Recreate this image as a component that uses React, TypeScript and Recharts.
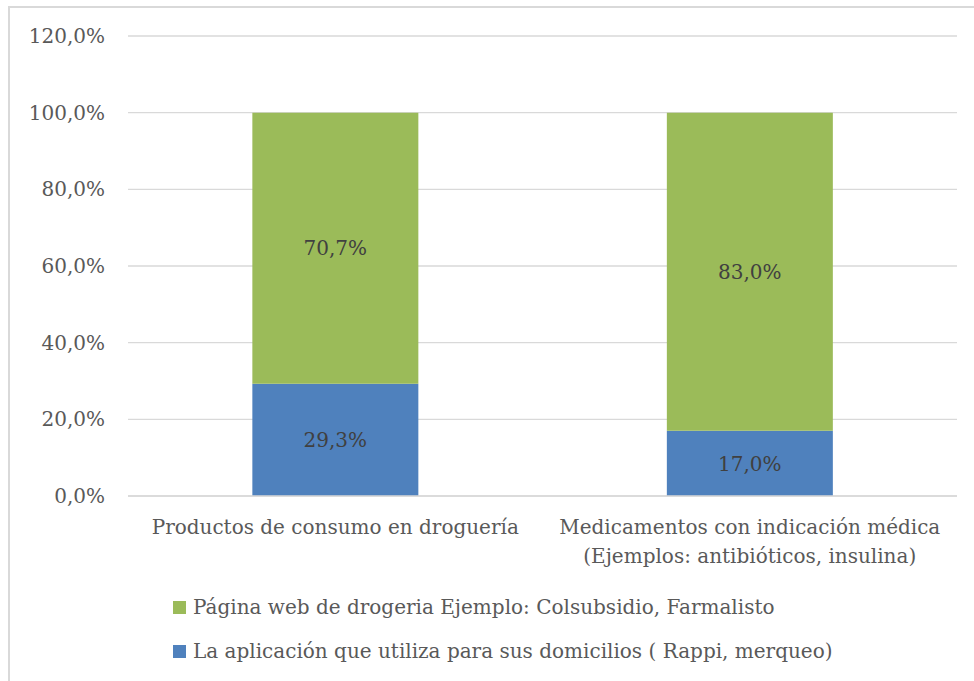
import React from "react";
import {
  Bar,
  BarChart,
  CartesianGrid,
  LabelList,
  Legend,
  XAxis,
  YAxis,
} from "recharts";

const categories = [
  "Productos de consumo en droguería",
  "Medicamentos con indicación médica\n(Ejemplos: antibióticos, insulina)",
];
const appValues = [29.3, 17.0];
const webValues = [70.7, 83.0];
const yTicks = [0, 20, 40, 60, 80, 100, 120];

const APP_NAME = "La aplicación que utiliza para sus domicilios ( Rappi, merqueo)";
const WEB_NAME = "Página web de drogeria Ejemplo: Colsubsidio, Farmalisto";

const BLUE = "#4F81BD";
const GREEN = "#9BBB59";
const FONT = "'DejaVu Serif', serif";
const FS = 20;

const data = categories.map((name, i) => ({
  name,
  app: appValues[i],
  web: webValues[i],
}));

const pct = (v: number) => `${v.toFixed(1).replace(".", ",")}%`;

function CategoryTick(props: any) {
  const { x, y, payload } = props;
  const lines = String(payload.value).split("\n");
  return (
    <text x={x} y={y} textAnchor="middle" fill="#595959" fontSize={FS} fontFamily={FONT}>
      {lines.map((l, i) => (
        <tspan key={i} x={x} dy={i === 0 ? 30 : 29}>
          {l}
        </tspan>
      ))}
    </text>
  );
}

function ChartLegend() {
  const items = [
    { name: WEB_NAME, color: GREEN },
    { name: APP_NAME, color: BLUE },
  ];
  return (
    <div style={{ fontFamily: FONT, fontSize: FS, color: "#595959" }}>
      {items.map((it) => (
        <div key={it.name} style={{ display: "flex", alignItems: "center", height: 44 }}>
          <span style={{ width: 13, height: 13, background: it.color, marginRight: 7 }} />
          <span>{it.name}</span>
        </div>
      ))}
    </div>
  );
}

export default function App() {
  return (
    <div style={{ position: "absolute", left: 0, top: 0, width: 974, height: 681, background: "#fff" }}>
      <div
        style={{
          position: "absolute",
          left: 8,
          top: 6,
          right: 0,
          bottom: 0,
          borderTop: "2px solid #d9d9d9",
          borderLeft: "2px solid #d9d9d9",
        }}
      />
      <BarChart
        width={974}
        height={681}
        data={data}
        barCategoryGap="30%"
        margin={{ top: 36, right: 17, left: 0, bottom: 105 }}
        style={{ position: "absolute", left: 0, top: 0 }}
      >
        <CartesianGrid vertical={false} stroke="#d9d9d9" strokeWidth={1.3} />
        <XAxis
          dataKey="name"
          height={80}
          tickLine={false}
          axisLine={{ stroke: "#d9d9d9", strokeWidth: 1.3 }}
          tick={<CategoryTick />}
          interval={0}
        />
        <YAxis
          width={128}
          domain={[0, 120]}
          ticks={yTicks}
          tickFormatter={pct}
          axisLine={false}
          tickLine={false}
          tickMargin={17}
          tick={{ fill: "#595959", fontSize: FS, fontFamily: FONT }}
        />
        <Legend
          layout="vertical"
          align="center"
          verticalAlign="middle"
          wrapperStyle={{ left: 173, top: 585, width: 790 }}
          content={<ChartLegend />}
        />
        <Bar dataKey="app" name={APP_NAME} stackId="a" fill={BLUE} isAnimationActive={false}>
          <LabelList
            dataKey="app"
            position="center"
            formatter={(v: any) => pct(Number(v))}
            fill="#404040"
            fontSize={FS}
            fontFamily={FONT}
          />
        </Bar>
        <Bar dataKey="web" name={WEB_NAME} stackId="a" fill={GREEN} isAnimationActive={false}>
          <LabelList
            dataKey="web"
            position="center"
            formatter={(v: any) => pct(Number(v))}
            fill="#404040"
            fontSize={FS}
            fontFamily={FONT}
          />
        </Bar>
      </BarChart>
    </div>
  );
}
